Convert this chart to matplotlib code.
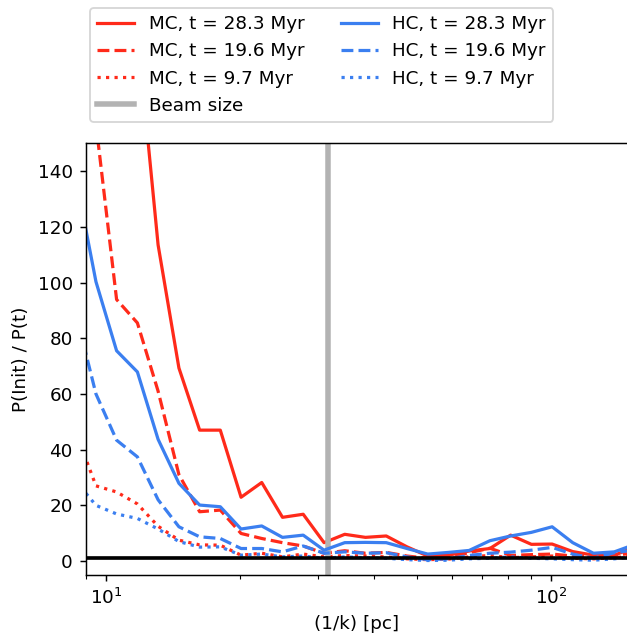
import numpy as np
import matplotlib
matplotlib.use("Agg")
from matplotlib import pyplot as plt

# scale (1/k) in pc, log-spaced bins
scale_pc = [8.52, 9.49, 10.56, 11.76, 13.09, 14.58, 16.23, 18.06, 20.11, 22.38,
            24.92, 27.74, 30.90, 34.39, 38.28, 42.63, 47.46, 52.84, 58.82, 65.46,
            72.90, 81.16, 90.36, 100.6, 111.9, 124.6, 138.8, 154.5]

# P(Init)/P(t) for the MC run
mc_283 = [320, 265, 225, 190, 113.5, 69.3, 47.0, 47.0, 22.9, 28.2, 15.7, 16.8,
          6.6, 9.6, 8.5, 9.0, 5.1, 1.8, 2.1, 3.6, 4.5, 9.3, 6.0, 6.1, 3.4, 2.1, 2.1, 5.0]
mc_196 = [200, 157, 93.9, 85.5, 61, 31, 17.7, 18.3, 9.9, 8.1, 6.6, 5.4,
          2.8, 3.7, 2.8, 3.1, 1.8, 1.0, 1.5, 3.0, 4.6, 2.0, 2.3, 2.5, 1.8, 1.5, 2.0, 3.0]
mc_97 = [47, 27, 24.8, 20.5, 12.5, 7.5, 5.8, 5.7, 2.1, 2.8, 1.5, 2.5,
         1.5, 2.0, 1.8, 1.5, 0.8, 0.5, 0.7, 1.5, 2.0, 1.2, 1.5, 1.8, 1.0, 0.8, 1.2, 2.0]

# P(Init)/P(t) for the HC run
hc_283 = [139, 100.3, 75.5, 67.9, 43.7, 27.9, 20.1, 19.5, 11.5, 12.6, 8.5, 9.3,
          3.9, 6.6, 6.7, 6.6, 4.5, 2.5, 3.1, 3.8, 7.3, 9.0, 10.3, 12.3, 6.6, 2.8, 3.3, 6.0]
hc_196 = [90, 60, 43.4, 37.4, 22, 12.3, 8.7, 8.1, 4.5, 4.5, 3.3, 5.4,
          2.8, 3.3, 2.8, 3.0, 1.5, 0.5, 0.8, 2.0, 2.8, 3.2, 3.9, 4.9, 2.5, 1.0, 3.0, 4.0]
hc_97 = [29, 20, 16.9, 15.3, 11.5, 7.0, 5.0, 5.1, 2.1, 2.5, 1.5, 1.8,
         1.0, 1.5, 1.2, 1.0, 0.5, 0.2, 0.3, 0.8, 1.0, 1.5, 1.0, 0.8, 0.5, 0.3, 0.8, 1.5]

times = ["28.3", "19.6", "9.7"]
beam_pc = 31.5

red = "#ff2a1a"
blue = "#3b7ff0"
styles = ["-", "--", ":"]
lw = 1.75

fig = plt.figure(figsize=(627 / 132, 639 / 132), dpi=132)
ax = fig.add_axes([0.1367, 0.1002, 0.8633, 0.6756])

x = np.array(scale_pc)
handles = []
for y, ls, t in zip([mc_283, mc_196, mc_97], styles, times):
    h, = ax.plot(x, y, color=red, ls=ls, lw=lw, label=f"MC, t = {t} Myr")
    handles.append(h)
hb = ax.axvline(beam_pc, color="#b3b3b3", lw=3, label="Beam size")
handles.append(hb)
for y, ls, t in zip([hc_283, hc_196, hc_97], styles, times):
    h, = ax.plot(x, y, color=blue, ls=ls, lw=lw, label=f"HC, t = {t} Myr")
    handles.append(h)

ax.axhline(1, color="k", lw=2)

ax.set_xscale("log")
ax.set_xlim(9, 148.2)
ax.set_ylim(-5, 150)
ax.set_yticks(np.arange(0, 141, 20))
ax.spines["right"].set_visible(False)
ax.set_xlabel("(1/k) [pc]")
ax.set_ylabel("P(Init) / P(t)")

fig.legend(handles=handles, ncol=2, loc="lower left",
           bbox_to_anchor=(90 / 627, 1 - 122 / 639), borderaxespad=0)

fig.savefig("out.png", dpi=132)
